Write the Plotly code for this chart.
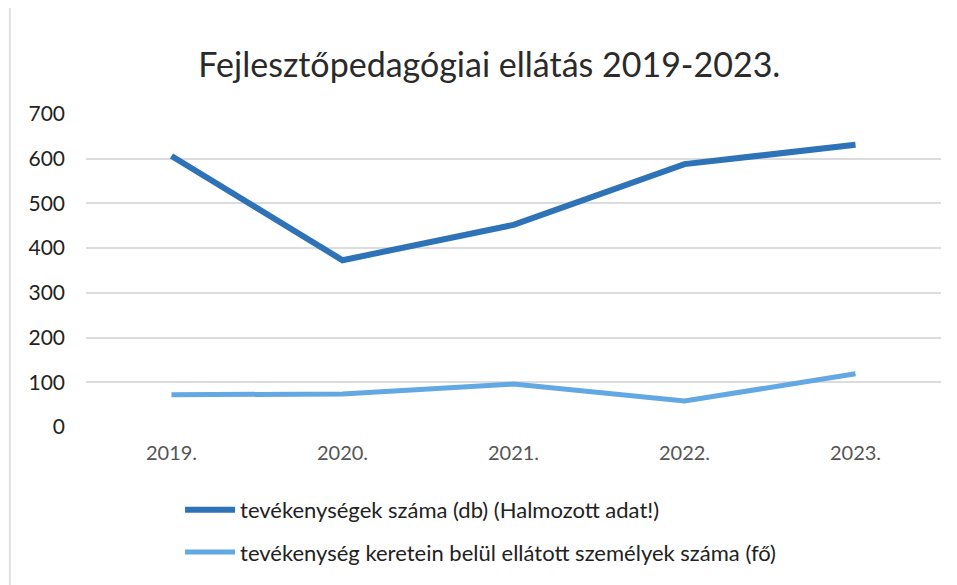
import plotly.graph_objects as go

years = ["2019.", "2020.", "2021.", "2022.", "2023."]
activities = [606, 373, 452, 588, 631]
persons = [72, 74, 96, 58, 119]
name1 = "tevékenységek száma (db) (Halmozott adat!)"
name2 = "tevékenység keretein belül ellátott személyek száma (fő)"

fig = go.Figure()
fig.add_trace(go.Scatter(x=years, y=activities, mode="lines", name=name1,
                         line=dict(color="#2E72B8", width=6), legend="legend"))
fig.add_trace(go.Scatter(x=years, y=persons, mode="lines", name=name2,
                         line=dict(color="#62A8E3", width=5), legend="legend2"))

leg_common = dict(orientation="v", x=0.11, xanchor="left", yanchor="middle",
                  font=dict(size=22, color="#222"), itemwidth=50,
                  bgcolor="rgba(0,0,0,0)")

fig.update_layout(
    width=957, height=585,
    paper_bgcolor="white", plot_bgcolor="white",
    margin=dict(l=78, r=24, t=106, b=166, autoexpand=False),
    title=dict(text="Fejlesztőpedagógiai ellátás 2019-2023.", x=0.503, xanchor="center",
               y=0.903, yanchor="middle",
               font=dict(family="Lato, Open Sans, sans-serif", size=34, color="#2a2a2a")),
    font=dict(family="Lato, Open Sans, sans-serif", color="#222"),
    showlegend=True,
    legend=dict(y=-0.265, **leg_common),
    legend2=dict(y=-0.40, **leg_common),
    xaxis=dict(showgrid=False, zeroline=False, showline=False, range=[-0.5, 4.5],
               tickfont=dict(size=20, color="#555"), ticks="", ticklabelstandoff=12),
    yaxis=dict(range=[0, 700], dtick=100, showgrid=True, gridcolor="#dcdcdc", gridwidth=1.5,
               zeroline=False, showline=False,
               tickfont=dict(size=21, color="#222"), ticks="", ticklabelstandoff=20),
)
fig.add_shape(type="line", xref="paper", yref="paper", x0=-0.089, x1=-0.089, y0=-0.6, y1=1.4,
              line=dict(color="#e0e0e0", width=2))
fig.write_html("out.html")
